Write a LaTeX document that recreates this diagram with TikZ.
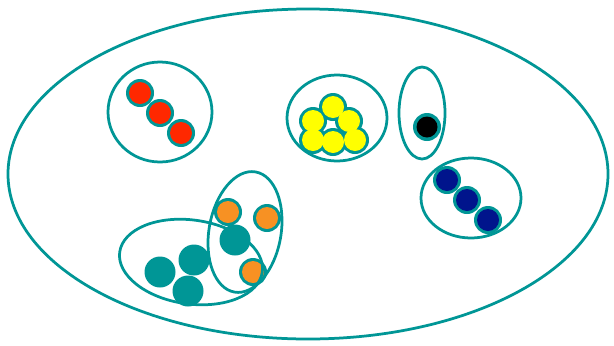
\documentclass[tikz,border=0pt]{standalone}
\usepackage{tikz}
\definecolor{tealc}{RGB}{0,150,150}
\definecolor{redc}{RGB}{255,40,0}
\definecolor{orangec}{RGB}{247,145,35}
\definecolor{yellowc}{RGB}{255,255,0}
\definecolor{bluec}{RGB}{0,20,140}
\tikzset{
  setline/.style={draw=tealc, line width=0.055cm},
}
\begin{document}
\begin{tikzpicture}[x=0.02cm,y=-0.02cm]
\useasboundingbox (0,0) rectangle (614,345);
\fill[white] (0,0) rectangle (614,345);
% red dots
\foreach \p in {(140,93),(160,113),(181,133)} {\fill[tealc] \p circle (14);}
\foreach \p in {(140,93),(160,113),(181,133)} {\fill[redc] \p circle (11);}
% yellow dots
\foreach \p in {(333,107),(313,121),(349,121),(313,140),(333,142),(355,140)} {\fill[tealc] \p circle (14);}
\foreach \p in {(333,107),(313,121),(349,121),(313,140),(333,142),(355,140)} {\fill[yellowc] \p circle (11);}
% black dot
\fill[tealc] (427,127) circle (14);
\fill[black] (427,127) circle (10.5);
% blue dots
\foreach \p in {(447,180),(467,200),(488,220)} {\fill[tealc] \p circle (14);}
\foreach \p in {(447,180),(467,200),(488,220)} {\fill[bluec] \p circle (11);}
% teal dots
\foreach \p in {(160,272),(194,260),(188,291),(235,240)} {\fill[tealc] \p circle (15.5);}
% orange dots
\foreach \p in {(228,212),(267,218),(253,272)} {\fill[tealc] \p circle (14);}
\foreach \p in {(228,212),(267,218),(253,272)} {\fill[orangec] \p circle (11);}
% sets
\draw[setline] (308,174) ellipse [x radius=300, y radius=165];
\draw[setline] (160,112) ellipse [x radius=52, y radius=50];
\draw[setline] (337,118) ellipse [x radius=50, y radius=43];
\draw[setline] (422,113) ellipse [x radius=23, y radius=46];
\draw[setline] (471,198) ellipse [x radius=50, y radius=40];
\draw[setline, rotate around={-8:(191,262)}] (191,262) ellipse [x radius=72, y radius=42];
\draw[setline, rotate around={-10:(245,232)}] (245,232) ellipse [x radius=36, y radius=61];
\end{tikzpicture}
\end{document}
